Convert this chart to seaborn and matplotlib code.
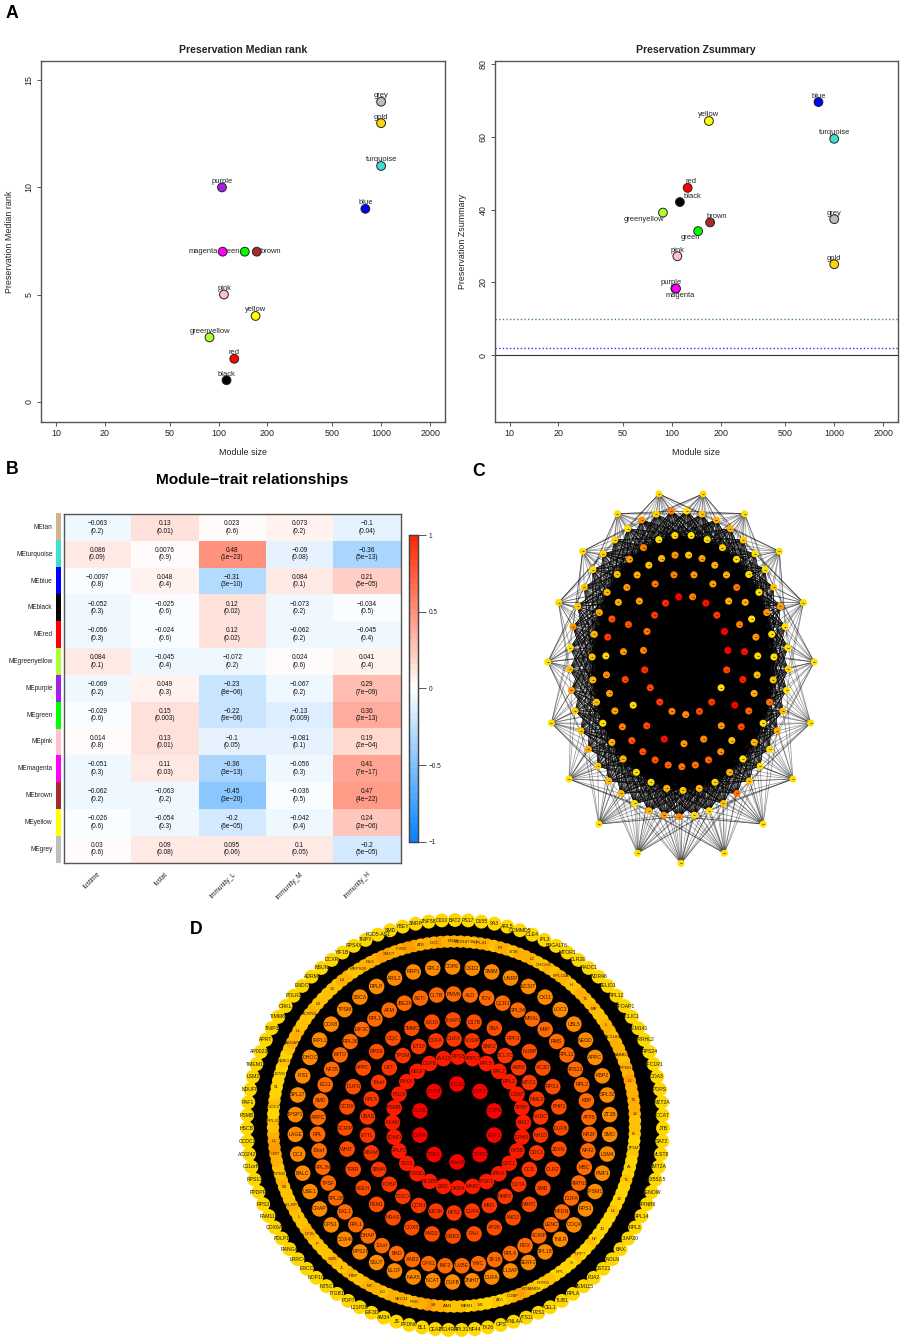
import numpy as np
import pandas as pd
import seaborn as sns
import matplotlib.pyplot as plt
from matplotlib.collections import LineCollection
from matplotlib.colors import LinearSegmentedColormap, ListedColormap
from matplotlib.patches import Circle
from matplotlib.ticker import FixedLocator, FixedFormatter, NullLocator

W, H = 900, 1339

# panel A
modules = ["grey", "gold", "turquoise", "purple", "blue", "magenta", "green", "brown",
           "pink", "yellow", "greenyellow", "red", "black"]
module_size = [1000, 1000, 1000, 105, 800, 106, 145, 172, 108, 169, 88, 125, 112]
median_rank = [14, 13, 11, 10, 9, 7, 7, 7, 5, 4, 3, 2, 1]
zsummary = [37.4, 25, 59.5, 18.3, 69.6, 18.3, 34.1, 36.5, 27.2, 64.4, 39.2, 46, 42.1]
module_colors = {"grey": "#BEBEBE", "gold": "#FFD700", "turquoise": "#40E0D0", "purple": "#A020F0",
                 "blue": "#0000FF", "magenta": "#FF00FF", "green": "#00FF00", "brown": "#A52A2A",
                 "pink": "#FFC0CB", "yellow": "#FFFF00", "greenyellow": "#ADFF2F", "red": "#FF0000",
                 "black": "#000000", "tan": "#D2B48C"}
size_ticks = [10, 20, 50, 100, 200, 500, 1000, 2000]

# panel B
trait_names = ["fustime", "fustat", "Immunity_L", "Immunity_M", "Immunity_H"]
me_names = ["tan", "turquoise", "blue", "black", "red", "greenyellow", "purple", "green",
            "pink", "magenta", "brown", "yellow", "grey"]
cor_fustime = [-0.063, 0.086, -0.0097, -0.052, -0.056, 0.084, -0.069, -0.029, 0.014, -0.051, -0.062, -0.026, 0.03]
cor_fustat = [0.13, 0.0076, 0.048, -0.025, -0.024, -0.045, 0.049, 0.15, 0.13, 0.11, -0.063, -0.054, 0.09]
cor_imm_l = [0.023, 0.48, -0.31, 0.12, 0.12, -0.072, -0.23, -0.22, -0.1, -0.36, -0.45, -0.2, 0.095]
cor_imm_m = [0.073, -0.09, 0.084, -0.073, -0.062, 0.024, -0.067, -0.13, -0.081, -0.056, -0.036, -0.042, 0.1]
cor_imm_h = [-0.1, -0.36, 0.21, -0.034, -0.045, 0.041, 0.29, 0.36, 0.19, 0.41, 0.47, 0.24, -0.2]
p_fustime = ["0.2", "0.09", "0.8", "0.3", "0.3", "0.1", "0.2", "0.6", "0.8", "0.3", "0.2", "0.6", "0.6"]
p_fustat = ["0.01", "0.9", "0.4", "0.6", "0.6", "0.4", "0.3", "0.003", "0.01", "0.03", "0.2", "0.3", "0.08"]
p_imm_l = ["0.6", "1e-23", "3e-10", "0.02", "0.02", "0.2", "8e-06", "9e-06", "0.05", "3e-13", "3e-20", "6e-05", "0.06"]
p_imm_m = ["0.2", "0.08", "0.1", "0.2", "0.2", "0.6", "0.2", "0.009", "0.1", "0.3", "0.5", "0.4", "0.05"]
p_imm_h = ["0.04", "5e-13", "5e-05", "0.5", "0.4", "0.4", "7e-09", "2e-13", "2e-04", "7e-17", "4e-22", "2e-06", "5e-05"]

# panel C, node score per ring, 0 yellow to 1 red, listed from the bottom node going right
c_ring1 = [.05] * 19
c_ring2 = [.5, .05, .05, .2, .6, .2, .05, .05, .3, .2, .05, .1, .05, .05, .4, .2, .05, .05, .15, .3, .3, .2, .05,
           .55, .1, .45, .05, .1, .1, .05, .2, .15, .45, .02, .2, .4, .15, .2, .35, .15, .25, .25, .05, .25, .45]
c_ring3 = [.2, .25, .1, .3, .05, .25, .05, .6, .2, .02, .05, .45, .05, .05, .05, .15, .05, .02, .1, .05, .55, .4,
           .2, .25, .35, .25, .2, .25, .2, .05, .3, .3, .05, .05, .3]
c_ring4 = [.6, .6, .65, .5, .25, .75, .65, .3, .2, .1, .45, .05, .3, .6, .3, .3, .4, .2, .45, .25, .2, .3, .45,
           .3, .7, .8, .1, .5, .4, .4, .55, .7, .7, .7, .65]
c_ring5 = [.45, .5, .45, 1.0, .9, .95, .55, .3, .4, .45, .55, .6, .4, .7, .45, .75, .1, .75, .95]
c_ring6 = [.5, .75, .8, .05, .75, 1.0, 1.0, .8, .95, .55, 1.0, .85, .8, .6, .55, .85, .75, .8, .55]

# panel D, gene labels per ring, clockwise from the top
d_ring1 = ["POLR2", "DUF3", "COPS", "EDF1", "DD45C", "19orf2", "TSR3", "DUFA", "ELOB", "DUF8"]
d_ring2 = ["RPS5", "MRPL5", "RPL5", "RPL2", "RPL2", "LSM7", "SPBP", "AM17", "DPM3", "0X5B", "CDC1", "IRKA", "TPSF1",
           "MAPC", "DKBH", "EM2", "SF3B5", "CAND", "S100", "RPLP2", "SOMO", "FXAN", "PSMB", "PGL5", "PAXX", "NELF",
           "DUFB", "NAA10"]
d_ring3 = ["DUFA", "NOSIP", "SNK2", "SCL7C", "AM50", "MTO1", "NME3", "NUDC", "NH1D", "CDC1", "CCS", "CUTA", "HMP2",
           "MM1", "DUFA", "NF52", "EIF3K", "QCR1", "TSSC4", "FOBP", "SBM4", "ABAM", "ETTL", "UBAS", "RPL5", "19orf",
           "UXT", "TPSM", "ET10", "DUFA"]
d_ring4 = ["THAP1", "D17B", "SNA", "RPF3", "NUBP", "AC3D", "RPS1", "PHP1", "DUFB", "JBXN", "OLR2", "SMB", "NRPC",
           "AND2", "AP2K", "FAU", "DRB3", "AM20", "COX5", "HRAS", "PEM1", "ASEH", "TRIR", "WHIT", "RCRIP", "GCRII",
           "DUFS", "APPC", "RPS9", "GQC", "DMMC", "EX18"]
d_ring5 = ["PMVK", "ALD", "TOV", "QCR1", "RPL34", "MRAL", "MIIP", "RMS", "RPL11", "RPS21", "RPL2", "KBP", "ATP5",
           "NR2F", "NF42", "MBC", "RMT61", "DUFA", "HFDN", "LENC", "RCRIP", "RDX", "RPL4", "SF18", "YWC", "UVBE",
           "INF2", "GPX1", "XAB2", "BAD", "12orf", "DHAP", "RPL1", "EXL1", "RPL28", "TPSF", "RPL39", "19orf", "RPL",
           "ARPC", "SMD", "ECI1", "NF35", "MITO", "RPL36", "EIF3C", "RPL1", "AFM", "UBE2N", "ASTI", "OLTB"]
d_ring6 = ["COPE", "OSD2", "SMIM", "UNRP", "ECSIT", "CX11", "LOC1", "UBL5", "NEDD", "APPC", "KBP2", "SPL32", "ZT2B",
           "SMO", "LSM4", "PMF1", "TPSM1", "RPS1", "COQ4", "TNLR", "SPL18", "SERF2", "L13AP", "DUFA", "ZNHIT", "DUFB",
           "NCAT", "NAA5", "ELOF", "SSU7", "RPS2I", "COX4I", "GPS1", "ORAP", "USE1", "BALC", "DC3", "LAGE", "TPSP1",
           "SPL27", "FIS1", "DHOC", "IRPL1", "COX8", "TPSM", "SSCA", "RPLP", "ARIL2", "RRP1", "RPL2"]
d_band_labels = ["ENAX", "AC018738.1", "RPL41", "P6", "3738", "L2", "CHCHD", "RPL13A", "H", "T1", "ME", "L", "AC2183",
                 "SABAC", "RFNG", "L1", "T3", "12", "8L", "TP5M", "AL", "T1", "12", "L1", "10", "NF", "DPP7", "S",
                 "RPL", "PORG", "ROMMD6", "CUBP", "ATC", "M1", "MEM1", "AAN", "S9", "PSG", "SEC31", "LO", "MC", "FIBP",
                 "JL", "SW5", "IP", "DF2L", "L", "DLRP", "K2", "DPM2", "CMT", "L1", "RPL11", "GOC2", "51", "10785",
                 "NME1", "ASGAT", "L1", "SCRN3", "L8", "33", "L4", "MRPS26", "FIL6", "SMDT", "IF209", "ATE", "DDC"]
d_band_scores = [3, 3, 3, 2, 3, 3, 2, 3, 3, 2, 3, 3, 3, 2, 2, 3, 2, 3, 3, 2, 2, 3, 3, 2, 3, 2, 2, 3, 3, 2, 3, 3, 3, 2,
                 3, 3, 4, 3, 3, 3, 3, 3, 2, 2, 2, 1, 1, 2, 1, 1, 1, 2, 1, 1, 1, 1, 2, 1, 1, 1, 1, 1, 2, 1, 1, 2, 1, 1,
                 1, 1, 2, 2, 1, 2, 3, 4, 3, 2, 1, 2, 1, 1, 2, 1, 2, 2, 2, 3, 3, 4, 3, 3, 2, 3, 3, 3, 2, 3, 3, 3, 2, 2,
                 3, 2, 2, 3, 2, 2, 2, 2, 3, 3, 2, 2, 2, 3, 2, 2, 2, 3, 2, 2, 3, 3, 4, 4, 3, 2, 2, 1, 1, 2, 1, 1, 1, 1,
                 1, 2, 1, 2, 3, 3, 3, 2, 2, 2, 3, 2, 2, 2, 2, 2, 3, 3, 2, 2, 3, 3, 3, 4, 4, 3, 3, 4, 4, 3, 3, 3, 4, 3]
d_outer = ["BAT2", "PS17", "D155", "9A3", "ARL5", "COMMD5", "OLE4", "IPL3", "B3GALT6", "MTOR1", "OLR2E", "RADC1",
           "WDR46", "RELID1", "RPL12", "RFOAP1", "OLIC1", "MEM141", "PRRHL2", "RPS24", "CFC1R1", "COA3", "POPS",
           "MZT2A", "OCAT", "JTB", "SAT2", "MLST8", "BMT2A", "133552.5", "LENOW", "RPINB6", "RPL14", "RPL3", "L13AP20",
           "BAX", "NOLN", "OSTZ1", "PJA2", "MEM115", "RPLA", "TUB1", "CEL1", "P2S1", "VTS11", "TXNL4A", "OPS", "TX26",
           "NF44", "RPL31", "PS14RA", "CEA2", "BL1", "PFDN6", "JS", "AM34", "EIF3D", "L21P28", "POP7", "ITGB1", "NT5C",
           "NOP10", "ERCC", "LRRC4", "RANGA", "PDLP1", "COX6A", "FAM110", "RPS3", "PPDPF", "RPS13", "C11orf9",
           "AC02429", "CCDC1", "HSCB", "PSMB", "PAF1", "NDUFB", "LSM2", "TMEM12", "AP00236", "APRT", "TNIP3", "TIMM8",
           "CRKL", "POLR2", "ENDO", "ADRM", "NSUN", "DCXR", "YIF1B", "RPS4X", "TNPY", "FGD5-AS1", "SMD", "YBEY", "SNRP",
           "ZNF58", "C010"]
d_ring_scores = [1.0, .9, .8, .72, .62, .5]
d_band_scale = .1
d_outer_score = .08

# layout constants, px of the figure
LABEL_A = {"grey": (0, -6), "gold": (0, -6), "turquoise": (0, -6), "purple": (0, -6), "blue": (0, -6),
           "magenta": (-19, 0), "green": (-14, 0), "brown": (14, 0), "pink": (0, -6), "yellow": (0, -6),
           "greenyellow": (0, -6), "red": (0, -6), "black": (0, -6)}
LABEL_Z = {"grey": (0, -6), "gold": (0, -6), "turquoise": (0, -6), "purple": (-4, -6), "blue": (0, -6),
           "magenta": (4, 6.5), "green": (-8, 6.5), "brown": (7, -6), "pink": (0, -6), "yellow": (0, -6),
           "greenyellow": (-19, 6.5), "red": (3, -6), "black": (12, -5.5)}
C_RINGS = [(681, 677.3, 133.7, 186), (679, 663.7, 109.3, 153), (683, 662.7, 91, 127.7),
           (681.8, 660.7, 76, 106), (684, 658.7, 60.7, 85), (685.7, 655.3, 42.3, 59.3)]
D_RINGS = [(457, 1123, 39, 39), (458, 1122.5, 65.5, 65.5), (454, 1126, 87, 87),
           (453, 1128, 108, 108), (453.5, 1130, 136, 136), (452.5, 1124.5, 157.5, 157.5)]
D_BAND = (454, 1124, 181, 182.5)
D_OUTER = (455, 1125, 208, 205)

sns.set_theme(style="white")
plt.rcParams["font.family"] = ["Liberation Sans", "DejaVu Sans"]
plt.rcParams["text.color"] = "#222222"
plt.rcParams["axes.labelcolor"] = "#222222"
plt.rcParams["xtick.color"] = "#222222"
plt.rcParams["ytick.color"] = "#222222"

heat_cmap = LinearSegmentedColormap.from_list("bwr2", ["#0885FF", "#FFFFFF", "#FF2A00"], N=50)
node_cmap = LinearSegmentedColormap.from_list("heat", ["#FFE600", "#FF8C00", "#FF0000"])

fig = plt.figure(figsize=(W / 100, H / 100), dpi=100)


def px_axes(x0, y0, x1, y1):
    return fig.add_axes([x0 / W, 1 - y1 / H, (x1 - x0) / W, (y1 - y0) / H])


def r_frame(ax):
    for s in ax.spines.values():
        s.set_visible(True)
        s.set_color("#555555")
        s.set_linewidth(1.0)


def preservation_plot(ax, values, offsets, title, ylabel, yticks, ylim, xlim, ylabel_x):
    df = pd.DataFrame({"size": module_size, "value": values, "module": modules})
    sns.scatterplot(data=df, x="size", y="value", hue="module", palette=module_colors, s=40,
                    edgecolor="#222222", linewidth=0.7, legend=False, ax=ax, zorder=3)
    ax.set_xscale("log")
    ax.set_xlim(*xlim)
    ax.set_ylim(*ylim)
    ax.xaxis.set_major_locator(FixedLocator(size_ticks))
    ax.xaxis.set_major_formatter(FixedFormatter([str(t) for t in size_ticks]))
    ax.xaxis.set_minor_locator(NullLocator())
    ax.set_yticks(yticks)
    ax.tick_params(axis="both", labelsize=6.4, length=3.2, width=0.7, color="#555555", bottom=True, left=True, pad=2)
    plt.setp(ax.get_yticklabels(), rotation=90, va="center")
    ax.set_title(title, fontsize=7.6, fontweight="bold", pad=5.5)
    ax.set_xlabel("Module size", fontsize=6.4, labelpad=7)
    ax.set_ylabel(ylabel, fontsize=6.4)
    ax.yaxis.set_label_coords(ylabel_x, 0.5)
    r_frame(ax)
    for name, x, y in zip(modules, module_size, values):
        dx, dy = offsets[name]
        ax.annotate(name, (x, y), xytext=(dx * 0.72, -dy * 0.72), textcoords="offset points", ha="center",
                    va="center", fontsize=5.4, color="#222222", zorder=2)


def ring_xy(ring, n, start_top=True):
    cx, cy, a, b = ring
    t = 2 * np.pi * np.arange(n) / n
    if start_top:
        return cx + a * np.sin(t), cy - b * np.cos(t)
    return cx + a * np.sin(t), cy + b * np.cos(t)


def draw_nodes(ax, x, y, scores, size):
    df = pd.DataFrame({"x": x, "y": y, "score": scores})
    sns.scatterplot(data=df, x="x", y="y", hue="score", palette=node_cmap, hue_norm=(0, 1), s=size,
                    linewidth=0, legend=False, ax=ax, zorder=4)


def panel_letter(text, x, y):
    fig.text(x / W, 1 - y / H, text, fontsize=12.7, fontweight="bold", color="black", va="center", ha="left")


# A
ax_rank = px_axes(41, 61, 445, 422)
preservation_plot(ax_rank, median_rank, LABEL_A, "Preservation Median rank", "Preservation Median rank",
                  [0, 5, 10, 15], (-0.95, 15.9), (8.09, 2472), -0.068)
ax_z = px_axes(494.7, 61, 898, 422)
ax_z.axhline(0, color="#333333", lw=0.8, zorder=1)
ax_z.axhline(2, color="#3030FF", lw=1.0, ls=(0, (1, 1.6)), zorder=1)
ax_z.axhline(10, color="#4C8C4C", lw=1.0, ls=(0, (1, 1.6)), zorder=1)
preservation_plot(ax_z, zsummary, LABEL_Z, "Preservation Zsummary", "Preservation Zsummary",
                  [0, 20, 40, 60, 80], (-18.4, 80.9), (8.09, 2472), -0.068)

# B
cor_table = np.array([cor_fustime, cor_fustat, cor_imm_l, cor_imm_m, cor_imm_h]).T
p_table = np.array([p_fustime, p_fustat, p_imm_l, p_imm_m, p_imm_h]).T
annot = np.array([[f"{v}\n({p})".replace("-", "\u2212", 1) if v < 0 else f"{v}\n({p})"
                   for v, p in zip(rv, rp)] for rv, rp in zip(cor_table, p_table)])
annot = np.char.replace(annot, "e-", "e\u2212")
ax_heat = px_axes(63.7, 514, 400.8, 862.5)
ax_cbar = px_axes(408.7, 535, 418.3, 841.7)
sns.heatmap(cor_table, ax=ax_heat, cbar_ax=ax_cbar, cmap=heat_cmap, vmin=-1, vmax=1, annot=annot, fmt="",
            annot_kws={"size": 4.7, "color": "#111111", "linespacing": 1.1},
            xticklabels=trait_names, yticklabels=["ME" + m for m in me_names])
r_frame(ax_heat)
ax_heat.tick_params(axis="y", length=0, pad=8, labelsize=4.7, rotation=0)
ax_heat.tick_params(axis="x", length=0, pad=6, labelsize=4.7)
plt.setp(ax_heat.get_xticklabels(), rotation=45, ha="right", va="top", rotation_mode="anchor")
ax_cbar.set_yticks([-1, -0.5, 0, 0.5, 1])
ax_cbar.set_yticklabels(["\u22121", "\u22120.5", "0", "0.5", "1"])
ax_cbar.tick_params(axis="y", length=5.5, width=0.7, color="#555555", labelsize=4.7, pad=2, right=True)
for s in ax_cbar.spines.values():
    s.set_visible(True)
    s.set_color("#444444")
    s.set_linewidth(0.9)

ax_side = px_axes(56.3, 513.3, 60.7, 863)
sns.heatmap(np.arange(len(me_names)).reshape(-1, 1), ax=ax_side, cbar=False, xticklabels=False, yticklabels=False,
            cmap=ListedColormap([module_colors[m] for m in me_names]))

fig.text(252 / W, 1 - 480 / H, "Module\u2212trait relationships", fontsize=11.1, fontweight="bold",
         ha="center", va="center", color="black")

# C, edges are too dense to read one by one, so they follow a fixed rule on the node order
ax_c = px_axes(530, 470, 830, 870)
c_scores = [c_ring1, c_ring2, c_ring3, c_ring4, c_ring5, c_ring6]
c_xy = [ring_xy(r, len(s), start_top=False) for r, s in zip(C_RINGS, c_scores)]
outer_pts = np.column_stack(c_xy[0])
ring2_pts = np.column_stack(c_xy[1])
core_pts = np.column_stack([np.concatenate([p[0] for p in c_xy[2:]]), np.concatenate([p[1] for p in c_xy[2:]])])
i, j = np.triu_indices(len(core_pts), 1)
ax_c.add_collection(LineCollection(np.stack([core_pts[i], core_pts[j]], axis=1),
                                   colors="black", linewidths=0.4, alpha=0.85, zorder=1))
mesh = []
for p in ring2_pts:
    near = np.argsort(np.hypot(*(core_pts - p).T))[:38]
    mesh += [[p, core_pts[q]] for q in near]
ax_c.add_collection(LineCollection(np.array(mesh), colors="black", linewidths=0.35, alpha=0.8, zorder=1))
fan = []
for k, p in enumerate(outer_pts):
    near = np.argsort(np.hypot(*(ring2_pts - p).T))[:10]
    fan += [[p, ring2_pts[q]] for q in near]
    near = np.argsort(np.hypot(*(core_pts - p).T))[:12]
    fan += [[p, core_pts[q]] for q in near]
ax_c.add_collection(LineCollection(np.array(fan), colors="black", linewidths=0.55, alpha=0.4, zorder=1))
for pts, s in zip(c_xy, c_scores):
    draw_nodes(ax_c, pts[0], pts[1], s, 26)
    ax_c.scatter(pts[0], pts[1], marker="_", s=3, linewidths=0.5, color="#3a2000", zorder=5)
ax_c.set(xlim=(530, 830), ylim=(870, 470), xlabel="", ylabel="")
ax_c.axis("off")

# D, the black disk stands in for the saturated edge mesh
ax_d = px_axes(220, 905, 700, 1339)
cx, cy, a, b = D_OUTER
ax_d.add_patch(Circle((cx, cy), 204, color="black", zorder=1))
ax_d.set(xlim=(220, 700), ylim=(1339, 905))
d_labels = [d_ring1, d_ring2, d_ring3, d_ring4, d_ring5, d_ring6]
ox, oy = ring_xy(D_OUTER, len(d_outer))
draw_nodes(ax_d, ox, oy, [d_outer_score] * len(d_outer), 100)
for x, y, t in zip(ox, oy, d_outer):
    ax_d.text(x, y, t, fontsize=3.7, ha="center", va="center", color="#1a1a1a", zorder=6)
bx, by = ring_xy(D_BAND, len(d_band_scores))
draw_nodes(ax_d, bx, by, np.array(d_band_scores) * d_band_scale, 80)
idx = (np.arange(len(d_band_labels)) * len(d_band_scores) / len(d_band_labels)).astype(int)
for q, t in zip(idx, d_band_labels):
    ax_d.text(bx[q], by[q], t, fontsize=3.2, ha="center", va="center", color="#3a2400", zorder=6)
for ring, names, score in zip(D_RINGS, d_labels, d_ring_scores):
    x, y = ring_xy(ring, len(names))
    draw_nodes(ax_d, x, y, [score] * len(names), 125)
    for xx, yy, t in zip(x, y, names):
        ax_d.text(xx, yy, t, fontsize=3.8, ha="center", va="center", color="#3a1400", zorder=6)
ax_d.set(xlabel="", ylabel="")
ax_d.axis("off")

panel_letter("A", 6, 14)
panel_letter("B", 6, 470)
panel_letter("C", 472, 471)
panel_letter("D", 190, 929)

fig.savefig("out.png", dpi=100)
